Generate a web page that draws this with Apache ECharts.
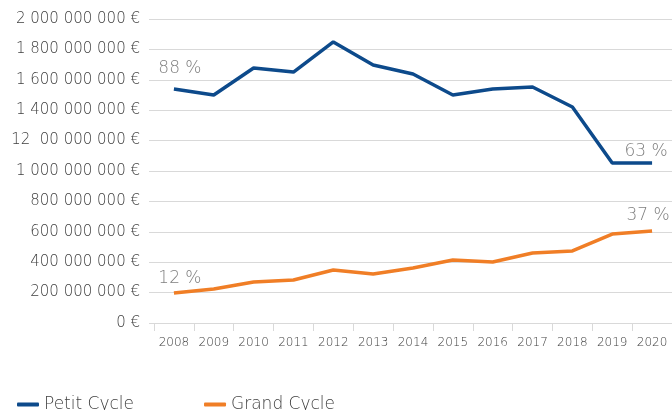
<!DOCTYPE html>
<html>
<head>
<meta charset="utf-8">
<script src="https://cdn.jsdelivr.net/npm/echarts@6/dist/echarts.min.js"></script>
<style>
  html, body { margin: 0; padding: 0; background: #fff; }
  #chart { width: 672px; height: 410px; }
</style>
</head>
<body>
<div id="chart"></div>
<script>
// data
var years = ['2008', '2009', '2010', '2011', '2012', '2013', '2014', '2015', '2016', '2017', '2018', '2019', '2020'];
var petitCycle = [1540, 1500, 1678, 1651, 1849, 1697, 1638, 1500, 1540, 1553, 1421, 1053, 1053]; // millions €
var grandCycle = [197, 224, 270, 283, 349, 322, 362, 414, 401, 460, 474, 585, 605];
var petitLabels = { 0: '88 %', 12: '63 %' };
var grandLabels = { 0: '12 %', 12: '37 %' };
var yTickLabels = ['0 €', '200 000 000 €', '400 000 000 €', '600 000 000 €', '800 000 000 €',
  '1 000 000 000 €', '12  00 000 000 €', '1 400 000 000 €', '1 600 000 000 €', '1 800 000 000 €', '2 000 000 000 €'];

var font = 'DejaVu Sans';
var textGrey = '#404040';

// where the percentage labels sit relative to their point
var petitOffsets = { 0: [6, -5], 12: [-6, 4] };
var grandOffsets = { 0: [6, 1], 12: [-4, 0] };

function withLabels(values, labels, offsets) {
  return values.map(function(v, i) {
    if (labels[i] === undefined) return v;
    return {
      value: v,
      label: {
	show: true,
	position: 'top',
	distance: 7,
	offset: offsets[i],
	formatter: labels[i],
	color: '#7f7f7f',
	fontSize: 17,
	fontWeight: 200,
	fontFamily: font
      }
    };
  });
}

var chart = echarts.init(document.getElementById('chart'));

var option = {
  animation: false,
  grid: { left: 154, right: 0, top: 19, bottom: 87, containLabel: false },
  legend: {
    left: 12,
    top: 391,
    itemGap: 70,
    itemWidth: 22,
    itemHeight: 4,
    icon: 'roundRect',
    textStyle: { color: textGrey, fontSize: 17, fontWeight: 200, fontFamily: font }
  },
  xAxis: {
    type: 'category',
    data: years,
    boundaryGap: true,
    axisLine: { lineStyle: { color: '#d9d9d9', width: 1 } },
    axisTick: { show: true, length: 8, lineStyle: { color: '#d9d9d9' } },
    axisLabel: { color: textGrey, fontSize: 12, fontWeight: 200, fontFamily: font, margin: 14 }
  },
  yAxis: {
    type: 'value',
    min: 0,
    max: 2000,
    interval: 200,
    axisLine: { show: false },
    axisTick: { show: true, length: 5, lineStyle: { color: '#d9d9d9' } },
    splitLine: { lineStyle: { color: '#d9d9d9', width: 1 } },
    axisLabel: {
      color: textGrey,
      fontSize: 15,
      fontWeight: 200,
      fontFamily: font,
      margin: 14,
      formatter: function(v) { return yTickLabels[Math.round(v / 200)]; }
    }
  },
  series: [
    {
      name: 'Petit Cycle',
      type: 'line',
      data: withLabels(petitCycle, petitLabels, petitOffsets),
      showSymbol: true,
      symbol: 'circle',
      symbolSize: 0.1,
      lineStyle: { color: '#0d4a8b', width: 3.5 },
      itemStyle: { color: '#0d4a8b' }
    },
    {
      name: 'Grand Cycle',
      type: 'line',
      data: withLabels(grandCycle, grandLabels, grandOffsets),
      showSymbol: true,
      symbol: 'circle',
      symbolSize: 0.1,
      lineStyle: { color: '#f07e26', width: 3.5 },
      itemStyle: { color: '#f07e26' }
    }
  ]
};

chart.setOption(option);
</script>
</body>
</html>
